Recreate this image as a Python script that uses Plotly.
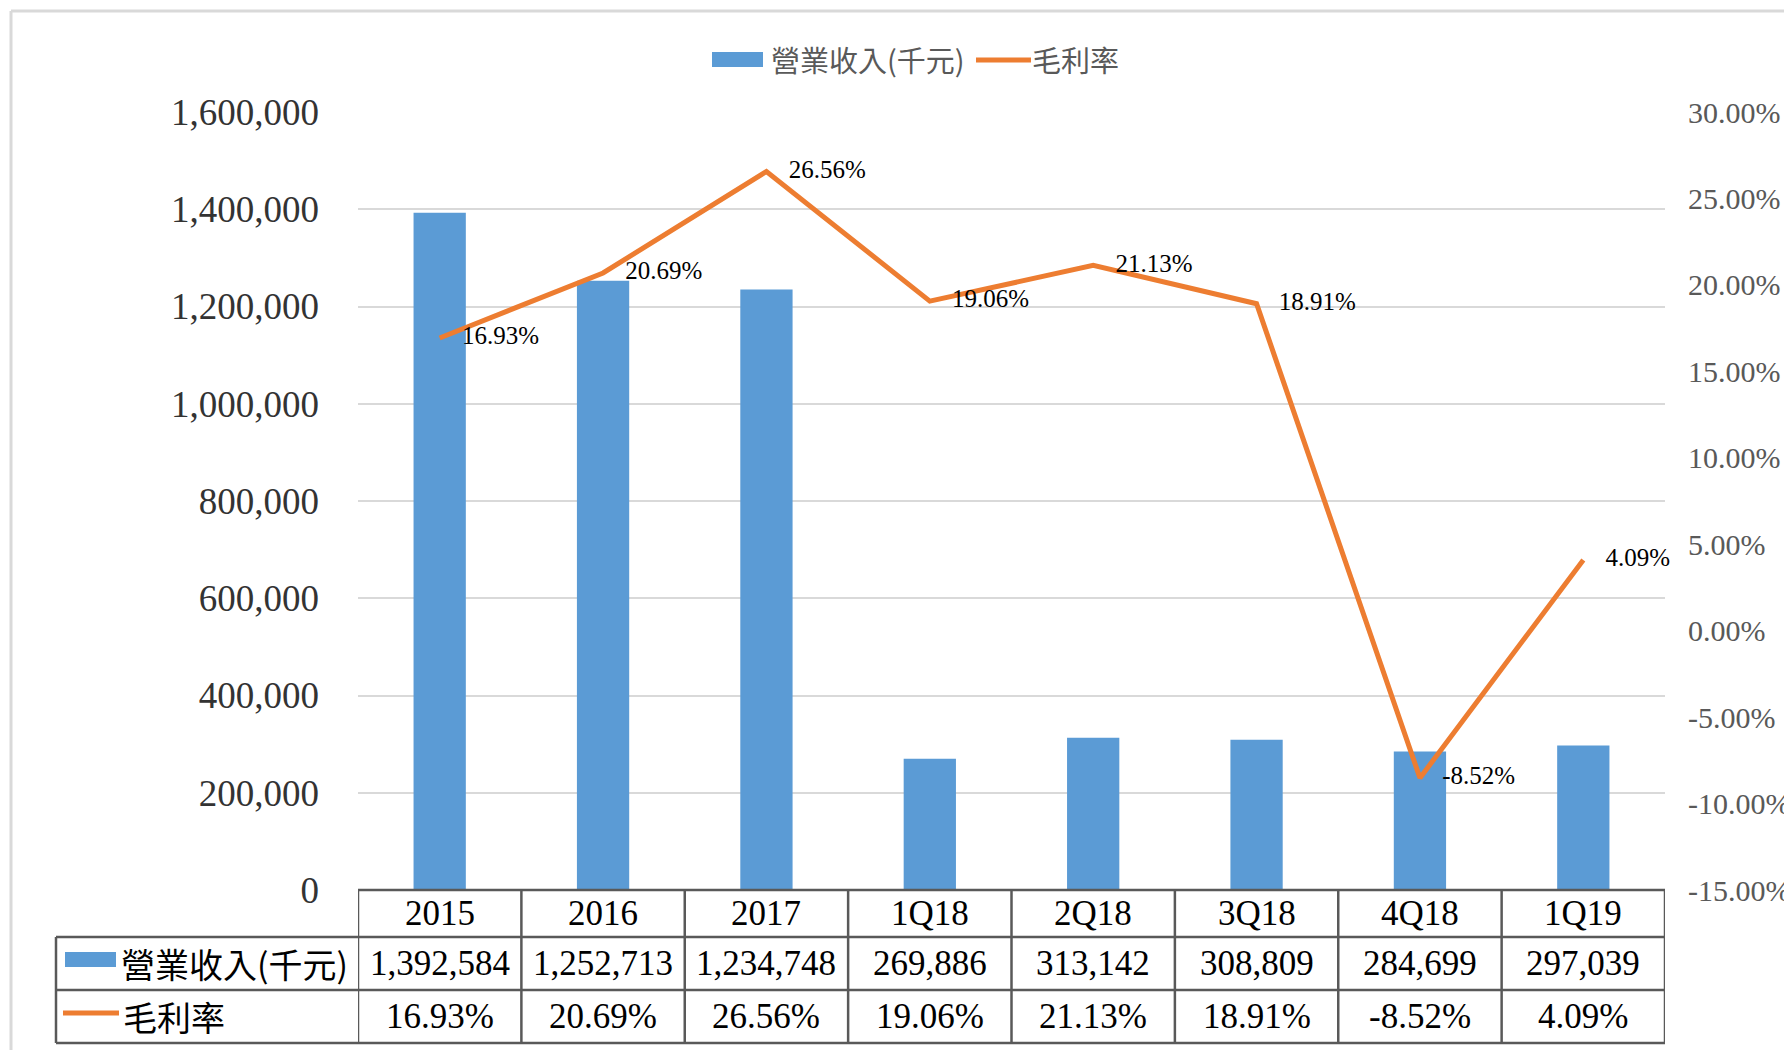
import plotly.graph_objects as go

# ---------------- data ----------------
categories = ["2015", "2016", "2017", "1Q18", "2Q18", "3Q18", "4Q18", "1Q19"]
revenue = [1392584, 1252713, 1234748, 269886, 313142, 308809, 284699, 297039]
gross_margin = [16.93, 20.69, 26.56, 19.06, 21.13, 18.91, -8.52, 4.09]  # percent
revenue_name = "營業收入(千元)"
margin_name = "毛利率"
left_ticks = [0, 200000, 400000, 600000, 800000, 1000000, 1200000, 1400000, 1600000]
right_ticks = [-15, -10, -5, 0, 5, 10, 15, 20, 25, 30]

# ---------------- layout helpers ----------------
# page body adds an 8px offset; work in screen pixels and compensate
OFF = 8
W, H = 1792 - OFF, 1050 - OFF
PX0, PX1, PY0, PY1 = 358, 1665, 112, 890  # plot area in screen pixels
L, T = PX0 - OFF, PY0 - OFF
R = W - (PX1 - OFF)
B = H - (PY1 - OFF)
PW, PH = PX1 - PX0, PY1 - PY0


def px(x):
    return (x - PX0) / PW


def py(y):
    return (PY1 - y) / PH


BLUE = "#5B9BD5"
ORANGE = "#ED7D31"
GRID = "#D9D9D9"
TABLE = "#595959"
SERIF = "Liberation Serif, Times New Roman, serif"
CJK = "Noto Sans CJK TC, Noto Sans CJK SC, sans-serif"

fig = go.Figure()

fig.add_trace(go.Bar(
    x=categories, y=revenue, name=revenue_name,
    marker=dict(color=BLUE, line=dict(width=0)),
    yaxis="y", hoverinfo="skip",
))

fig.add_trace(go.Scatter(
    x=categories, y=gross_margin, name=margin_name, yaxis="y2",
    mode="lines+markers+text",
    line=dict(color=ORANGE, width=5),
    marker=dict(size=34, color="rgba(0,0,0,0)"),
    text=[f"{v:.2f}%" for v in gross_margin],
    textposition="middle right",
    textfont=dict(family=SERIF, size=25, color="#000000"),
    cliponaxis=False, hoverinfo="skip",
))

shapes = []
annotations = []

# outer chart border (left and top)
shapes.append(dict(type="line", xref="paper", yref="paper",
                   x0=px(11), x1=px(1800), y0=py(11), y1=py(11),
                   line=dict(color=GRID, width=3)))
shapes.append(dict(type="line", xref="paper", yref="paper",
                   x0=px(11), x1=px(11), y0=py(11), y1=py(1060),
                   line=dict(color=GRID, width=3)))

# legend (top)
shapes.append(dict(type="rect", xref="paper", yref="paper",
                   x0=px(712), x1=px(763), y0=py(67), y1=py(52),
                   fillcolor=BLUE, line=dict(width=0)))
annotations.append(dict(text=revenue_name, xref="paper", yref="paper",
                        x=px(769), y=py(59), xanchor="left", yanchor="middle",
                        showarrow=False,
                        font=dict(family=CJK, size=29, color="#595959")))
shapes.append(dict(type="line", xref="paper", yref="paper",
                   x0=px(976), x1=px(1031), y0=py(60), y1=py(60),
                   line=dict(color=ORANGE, width=5)))
annotations.append(dict(text=margin_name, xref="paper", yref="paper",
                        x=px(1030), y=py(59), xanchor="left", yanchor="middle",
                        showarrow=False,
                        font=dict(family=CJK, size=29, color="#595959")))

# data table
row_top = [890, 937, 990, 1043]
tbl_line = dict(color=TABLE, width=2.5)
shapes.append(dict(type="line", xref="paper", yref="paper",
                   x0=0, x1=1, y0=py(row_top[0]), y1=py(row_top[0]), line=tbl_line))
for yy in row_top[1:]:
    shapes.append(dict(type="line", xref="paper", yref="paper",
                       x0=px(56), x1=1, y0=py(yy), y1=py(yy), line=tbl_line))
for i in range(len(categories) + 1):
    shapes.append(dict(type="line", xref="x", yref="paper",
                       x0=i - 0.5, x1=i - 0.5, y0=py(row_top[0]), y1=py(row_top[-1]),
                       line=tbl_line))
shapes.append(dict(type="line", xref="paper", yref="paper",
                   x0=px(56), x1=px(56), y0=py(row_top[1]), y1=py(row_top[-1]),
                   line=tbl_line))

row_mid = [(row_top[k] + row_top[k + 1]) / 2 for k in range(3)]
cell_font = dict(family=SERIF, size=35, color="#000000")
for i, (c, rv, gm) in enumerate(zip(categories, revenue, gross_margin)):
    for text, ym in ((c, row_mid[0]), (f"{rv:,}", row_mid[1]), (f"{gm:.2f}%", row_mid[2])):
        annotations.append(dict(text=text, xref="x", yref="paper", x=i, y=py(ym),
                                xanchor="center", yanchor="middle",
                                showarrow=False, font=cell_font))

# row labels with keys
shapes.append(dict(type="rect", xref="paper", yref="paper",
                   x0=px(65), x1=px(116), y0=py(967), y1=py(952),
                   fillcolor=BLUE, line=dict(width=0)))
annotations.append(dict(text=revenue_name, xref="paper", yref="paper",
                        x=px(119), y=py(row_mid[1]), xanchor="left", yanchor="middle",
                        showarrow=False, font=dict(family=CJK, size=34, color="#000000")))
shapes.append(dict(type="line", xref="paper", yref="paper",
                   x0=px(63), x1=px(119), y0=py(1013), y1=py(1013),
                   line=dict(color=ORANGE, width=5)))
annotations.append(dict(text=margin_name, xref="paper", yref="paper",
                        x=px(121), y=py(row_mid[2]), xanchor="left", yanchor="middle",
                        showarrow=False, font=dict(family=CJK, size=34, color="#000000")))

fig.update_layout(
    width=W, height=H,
    margin=dict(l=L, r=R, t=T, b=B, pad=0, autoexpand=False),
    paper_bgcolor="white", plot_bgcolor="white",
    showlegend=False,
    bargap=0.68,
    xaxis=dict(type="category", range=[-0.5, len(categories) - 0.5],
               showticklabels=False, showgrid=False, zeroline=False,
               showline=False, ticks="", automargin=False),
    yaxis=dict(range=[0, 1600000], tickvals=left_ticks,
               ticktext=[f"{v:,}" for v in left_ticks],
               showgrid=True, gridcolor=GRID, gridwidth=2,
               zeroline=False, showline=False, ticks="", automargin=False,
               ticklabelstandoff=38,
               tickfont=dict(family=SERIF, size=37, color="#333333")),
    yaxis2=dict(range=[-15, 30], tickvals=right_ticks,
                ticktext=[f"{v:.2f}%" for v in right_ticks],
                overlaying="y", side="right", automargin=False,
                showgrid=False, zeroline=False, showline=False, ticks="",
                ticklabelstandoff=22,
                tickfont=dict(family=SERIF, size=30, color="#595959")),
    shapes=shapes,
    annotations=annotations,
)

fig.write_html("out.html")
